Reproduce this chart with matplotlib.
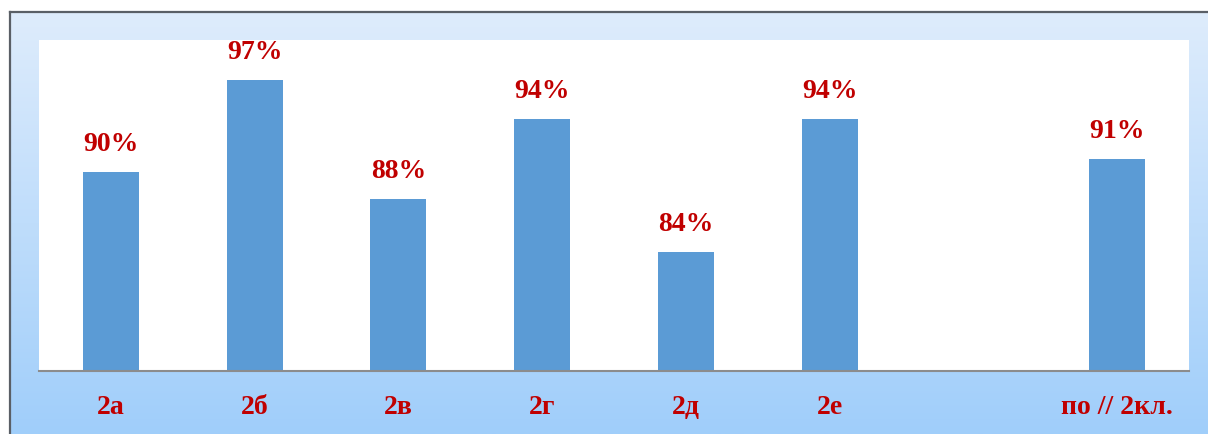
"""Bar chart of class percentages with a gradient frame."""

import matplotlib

matplotlib.use("Agg")
import matplotlib.pyplot as plt
import numpy as np

categories = ["2а", "2б", "2в", "2г", "2д", "2е", "", "по // 2кл."]
values = [90, 97, 88, 94, 84, 94, None, 91]

BAR_COLOR = "#5B9BD5"
TEXT_COLOR = "#C00000"
FONT = ["Liberation Serif", "DejaVu Serif"]

W, H = 1208, 435
fig = plt.figure(figsize=(W / 100, H / 100), dpi=100)
fig.patch.set_facecolor("white")

# gradient frame behind the plot area
bg = fig.add_axes([10 / W, 0, 1 - 10 / W, (H - 13) / H])
top = np.array([222, 236, 252]) / 255
bottom = np.array([160, 206, 250]) / 255
t = np.linspace(0, 1, 256)[:, None]
grad = top + (bottom - top) * t
bg.imshow(grad[:, None, :], aspect="auto", extent=[0, 1, 0, 1])
bg.set_xticks([])
bg.set_yticks([])
for side in ("right", "bottom"):
    bg.spines[side].set_visible(False)
for side in ("left", "top"):
    bg.spines[side].set_color("#5a5f66")
    bg.spines[side].set_linewidth(1.6)

ax = fig.add_axes([39 / W, (H - 372) / H, 1150 / W, 331 / H])
ax.set_facecolor("white")

x = np.arange(len(categories))
for xi, v in zip(x, values):
    if v is None:
        continue
    ax.bar(xi, v, width=0.39, bottom=0, color=BAR_COLOR, zorder=2)
    ax.annotate(
        f"{v}%",
        (xi, v),
        xytext=(0, 20.5),
        textcoords="offset points",
        ha="center",
        va="center",
        color=TEXT_COLOR,
        fontsize=20,
        fontweight="bold",
        family=FONT,
        annotation_clip=False,
    )

ax.set_xlim(-0.5, len(categories) - 0.5)
ax.set_ylim(75, 100)
ax.set_yticks([])
ax.set_xticks(x)
ax.set_xticklabels(categories, color=TEXT_COLOR, fontsize=20,
                   fontweight="bold", family=FONT)
ax.tick_params(axis="x", length=0, pad=16.5)
for side in ("left", "right", "top"):
    ax.spines[side].set_visible(False)
ax.spines["bottom"].set_color("#8c8c8c")
ax.spines["bottom"].set_linewidth(1.5)

fig.savefig("out.png", dpi=100)
